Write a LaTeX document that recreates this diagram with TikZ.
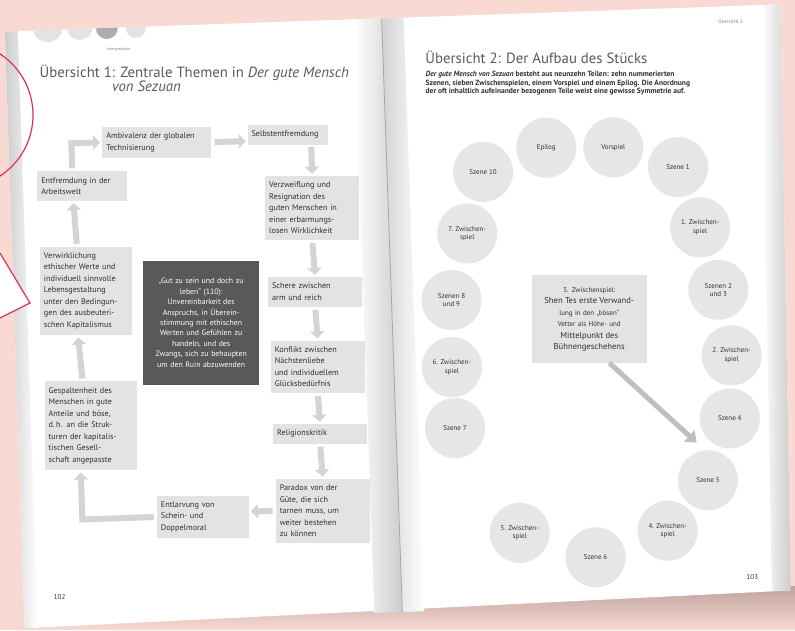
\documentclass[tikz,border=0pt]{standalone}
\usepackage{fontspec}
\setmainfont{PT Sans}
\usepackage{xcolor}
\usepackage{tikz}
\usetikzlibrary{arrows.meta,positioning}

\definecolor{rosa}{HTML}{F8DAD3}
\definecolor{schatten}{HTML}{BFA29D}
\definecolor{kasten}{HTML}{E3E3E3}
\definecolor{kreis}{HTML}{E6E6E6}
\definecolor{pfeilgrau}{HTML}{D4D4D4}
\definecolor{dunkel}{HTML}{595959}
\definecolor{schrift}{HTML}{303030}
\definecolor{titelgrau}{HTML}{5A5A5A}
\definecolor{blasenrot}{HTML}{E0305A}

\begin{document}
\begin{tikzpicture}[x=1pt, y=-1pt,
  box/.style={fill=kasten, text=schrift, align=left, inner xsep=4pt, inner ysep=6pt, font=\fontsize{8.2}{11.5}\selectfont},
  darkbox/.style={fill=dunkel, text=white, align=center, text width=106pt, minimum height=124pt, inner sep=5pt, font=\fontsize{7.8}{10.4}\selectfont},
  ring/.style={circle, fill=kreis, minimum size=60pt, inner sep=0pt, align=center, text=schrift, font=\fontsize{7}{8.4}\selectfont},
  midbox/.style={fill=kasten, text=schrift, align=center, text width=107pt, minimum height=88pt, inner sep=4pt, font=\fontsize{7}{11.5}\selectfont},
  titel/.style={text=titelgrau, inner sep=0pt, font=\fontsize{14.8}{17}\selectfont},
  absatz/.style={text=schrift, align=left, inner sep=0pt, font=\fontsize{7.5}{8.7}\selectfont\bfseries},
  klein/.style={text=schrift, inner sep=0pt, font=\fontsize{7}{8.5}\selectfont},
  arr/.style={-{Triangle[length=7pt,width=14pt]}, line width=6pt, draw=pfeilgrau, shorten <=3pt, shorten >=2pt},
  bigarr/.style={-{Triangle[length=10pt,width=15pt]}, line width=5pt, draw=pfeilgrau!90!black}
]
\useasboundingbox (0,0) rectangle (795,630);
\fill[rosa] (0,0) rectangle (795,630);
\shade[top color=schatten, bottom color=rosa] (18,626) -- (795,586) -- (795,630) -- (18,630) -- cycle;

\begin{scope}[rotate around={2:(397,315)}]
\fill[white] (15,18) -- (791,18) -- (781,604) -- (14,615) -- cycle;
\shade[left color=gray!40, right color=white] (15,18) -- (28,18) -- (27,615) -- (14,615) -- cycle;
\shade[left color=white, right color=gray!40] (772,18) -- (791,18) -- (781,604) -- (762,604) -- cycle;
\shade[left color=white, right color=gray!40] (364,18) rectangle (392,612);
\shade[left color=gray!35, right color=white] (392,18) rectangle (414,612);
\draw[gray!70, line width=0.8pt] (392,18) -- (392,612);

\begin{scope}
\clip (15,18) rectangle (390,60);
\fill[gray!22] (58,15) circle (15);
\fill[gray!22] (90,16) circle (13);
\fill[gray!65] (117,18) circle (11);
\fill[gray!22] (146,19) circle (10);
\end{scope}
\node[klein, font=\fontsize{4}{5}\selectfont, text=gray] at (128,40) (logo) {Interpretation};

% linke Seite
\node[titel, anchor=base west] at (48,65) (titeleins) {Übersicht 1: Zentrale Themen in \textit{Der gute Mensch}};
\node[titel, anchor=base west] at (120,82) (titeleinsb) {\textit{von Sezuan}};

\node[box, text width=101pt] at (163,134) (ambiv) {Ambivalenz der globalen\\Technisierung};
\node[box, text width=72pt] at (294,131) (selbst) {Selbstentfremdung};
\node[box, text width=82pt] at (87,175) (entfr) {Entfremdung in der\\Arbeitswelt};
\node[box, text width=86pt] at (316,205) (verz) {Verzweiflung und\\Resignation des\\guten Menschen in\\einer erbarmungs-\\losen Wirklichkeit};
\node[box, text width=84pt] at (87,280) (verw) {Verwirklichung\\ethischer Werte und\\individuell sinnvolle\\Lebensgestaltung\\unter den Bedingun-\\gen des ausbeuteri-\\schen Kapitalismus};
\node[box, text width=86pt] at (316,289) (schere) {Schere zwischen\\arm und reich};
\node[darkbox] at (201,316) (gutsein) {„Gut zu sein und doch zu\\leben“ (110):\\Unvereinbarkeit des\\Anspruchs, in Überein-\\stimmung mit ethischen\\Werten und Gefühlen zu\\handeln, und des\\Zwangs, sich zu behaupten\\um den Ruin abzuwenden};
\node[box, text width=86pt] at (316,364) (konfl) {Konflikt zwischen\\Nächstenliebe\\und individuellem\\Glücksbedürfnis};
\node[box, text width=84pt] at (87,415) (gesp) {Gespaltenheit des\\Menschen in gute\\Anteile und böse,\\d.\,h. an die Struk-\\turen der kapitalis-\\tischen Gesell-\\schaft angepasste};
\node[box, text width=86pt] at (316,431) (relig) {Religionskritik};
\node[box, text width=86pt] at (316,508) (parad) {Paradox von der\\Güte, die sich\\tarnen muss, um\\weiter bestehen\\zu können};
\node[box, text width=84pt] at (196,510) (entl) {Entlarvung von\\Schein- und\\Doppelmoral};

\draw[arr] (ambiv.east) -- (selbst.west |- ambiv.east);
\draw[arr] (verz.north |- selbst.south) -- (verz.north);
\draw[arr] (verz.south) -- (schere.north);
\draw[arr] (schere.south) -- (konfl.north);
\draw[arr] (konfl.south) -- (relig.north);
\draw[arr] (relig.south) -- (parad.north);
\draw[arr] (parad.west) -- (entl.east |- parad.west);
\draw[arr] (entl.west) -| ([xshift=-10pt]gesp.south);
\draw[arr] ([xshift=-8pt]gesp.north) -- ([xshift=-8pt]verw.south);
\draw[arr] ([xshift=-9pt]verw.north) -- ([xshift=-9pt]entfr.south);
\draw[arr] ([xshift=-10pt]entfr.north) |- (ambiv.west);

\node[klein] at (50,585) (seitelinks) {102};

% rechte Seite
\node[klein, font=\fontsize{5}{6}\selectfont, text=gray, anchor=base east] at (753,36) (kopf) {Übersicht 2};
\node[titel, anchor=base west] at (434,65) (titelzwei) {Übersicht 2: Der Aufbau des Stücks};
\node[absatz, anchor=north west] at (434,72) (einleitung) {\textit{Der gute Mensch von Sezuan} besteht aus neunzehn Teilen: zehn nummerierten\\Szenen, sieben Zwischenspielen, einem Vorspiel und einem Epilog. Die Anordnung\\der oft inhaltlich aufeinander bezogenen Teile weist eine gewisse Symmetrie auf.};

\node[ring] at (552,153) (epilog) {Epilog};
\node[ring] at (619,155) (vorspiel) {Vorspiel};
\node[ring] at (683,177) (szeins) {Szene 1};
\node[ring] at (703,238) (zweins) {1. Zwischen-\\spiel};
\node[ring] at (719,301) (szzwei) {Szenen 2\\und 3};
\node[ring] at (730,367) (zwzwei) {2. Zwischen-\\spiel};
\node[ring] at (726,430) (szvier) {Szene 4};
\node[ring] at (702,491) (szfuenf) {Szene 5};
\node[ring] at (660,540) (zwvier) {4. Zwischen-\\spiel};
\node[ring] at (587,564) (szsechs) {Szene 6};
\node[ring] at (512,537) (zwfuenf) {5. Zwischen-\\spiel};
\node[ring] at (451,430) (szsieben) {Szene 7};
\node[ring] at (450,369) (zwsechs) {6. Zwischen-\\spiel};
\node[ring] at (452,302) (szacht) {Szenen 8\\und 9};
\node[ring] at (470,236) (zwsieben) {7. Zwischen-\\spiel};
\node[ring] at (488,175) (szzehn) {Szene 10};

\node[midbox] at (589,326) (mitte) {3. Zwischenspiel:\\{\fontsize{8.6}{11.5}\selectfont Shen Tes erste Verwand-}\\lung in den „bösen“\\Vetter als Höhe- und\\{\fontsize{8.6}{11.5}\selectfont Mittelpunkt des}\\{\fontsize{8.6}{11.5}\selectfont Bühnengeschehens}};
\coordinate (spitze) at (692,453);
\draw[bigarr] ([xshift=20pt]mitte.south) -- (spitze);

\node[klein] at (743,589) (seiterechts) {103};
\end{scope}

\draw[blasenrot, line width=1.2pt] (-40,115) circle (73);
\draw[blasenrot, line width=1.2pt, fill=white] (0,253) -- (30,303) -- (0,318);
\end{tikzpicture}
\end{document}
